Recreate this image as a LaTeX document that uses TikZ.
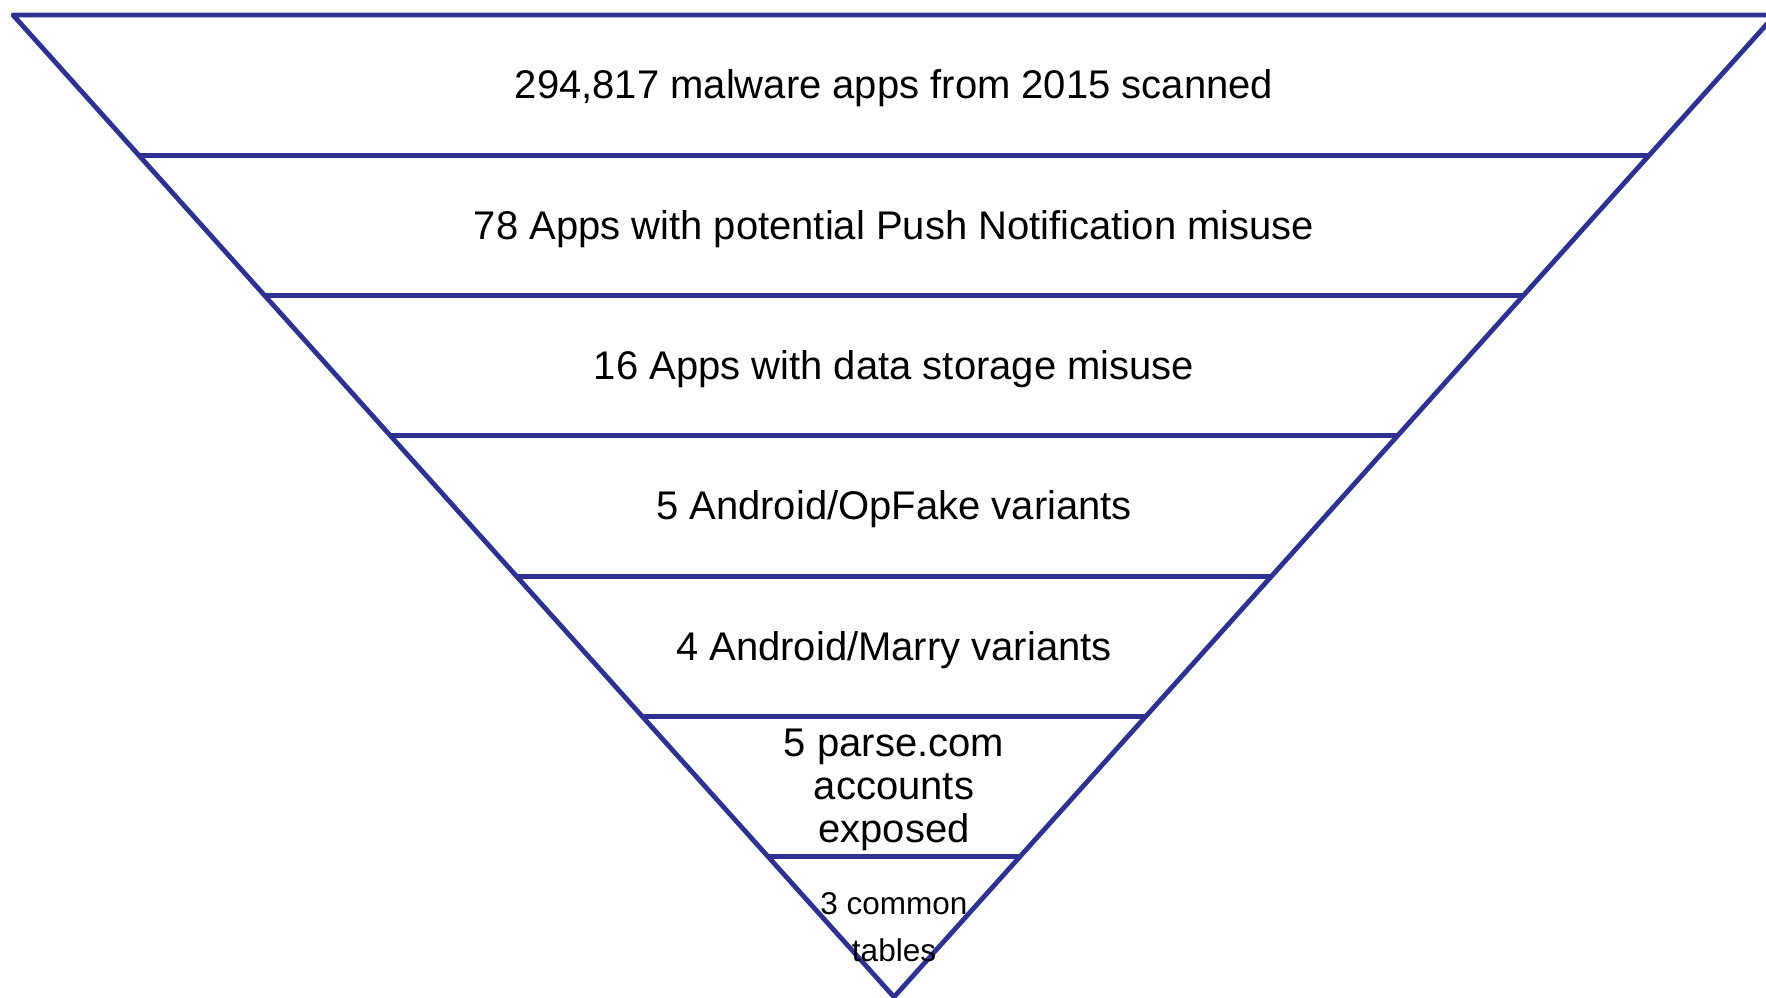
\documentclass[tikz,border=0pt]{standalone}
\usepackage{fontspec}
\setmainfont{Liberation Sans}
\usetikzlibrary{calc}
\definecolor{funnelblue}{RGB}{46,49,146}
\begin{document}
\begin{tikzpicture}[x=1pt,y=-1pt,
  edge/.style={draw=funnelblue,line width=4.8pt,line join=round},
  bigtext/.style={font=\fontsize{40}{46}\selectfont,inner sep=0pt,align=center},
  midtext/.style={font=\fontsize{40}{43}\selectfont,inner sep=0pt,align=center},
  smalltext/.style={font=\fontsize{31.5}{47}\selectfont,inner sep=0pt,align=center}]
\useasboundingbox (0,0) rectangle (1766,998);
\coordinate (TL) at (13,15);
\coordinate (TR) at (1775,15);
\coordinate (B) at (894,997);
\draw[edge] (TL) -- (TR) -- (B) -- cycle;
\foreach \k in {1,...,6}{
  \draw[edge] ($(TL)!\k/7!(B)$) -- ($(TR)!\k/7!(B)$);
}
\node[bigtext] (t1) at (894,88.6) {294,817 malware apps from 2015 scanned};
\node[bigtext] (t2) at (894,228.9) {78 Apps with potential Push Notification misuse};
\node[bigtext] (t3) at (894,369.2) {16 Apps with data storage misuse};
\node[bigtext] (t4) at (894,509.4) {5 Android/OpFake variants};
\node[bigtext] (t5) at (894,649.7) {4 Android/Marry variants};
\node[midtext] (t6) at (894,789.5) {5 parse.com\\accounts\\exposed};
\node[smalltext] (t7) at (894,927.5) {3 common\\tables};
\end{tikzpicture}
\end{document}
